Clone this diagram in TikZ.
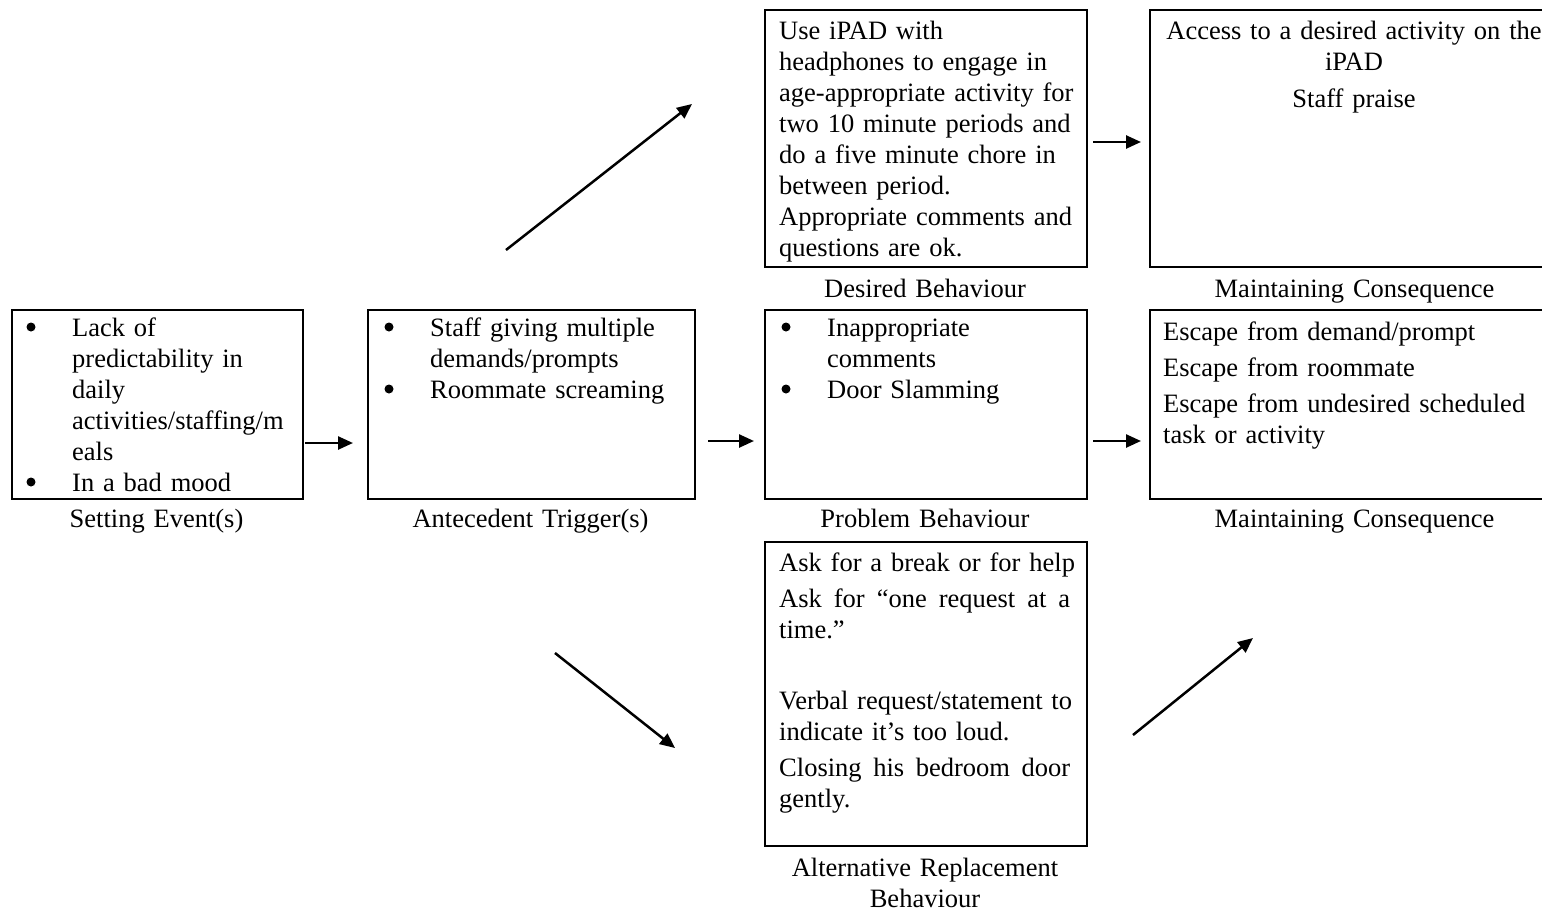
\documentclass[tikz,border=0pt]{standalone}
\usepackage{fontspec}
\setmainfont{Liberation Serif}
\usetikzlibrary{arrows.meta}
\newcommand\myfont{\fontsize{26.5}{31}\selectfont\fontdimen2\font=4.6pt\relax}
\tikzset{
  box/.style={draw=black, line width=2pt, inner sep=0pt},
  txt/.style={inner sep=0pt, anchor=base west, align=left, text width=#1,
    font=\myfont},
  txt/.default=330pt,
  ctxt/.style={inner sep=0pt, anchor=base, align=center, text width=420pt,
    font=\myfont},
  bul/.style={circle, fill=black, inner sep=0pt, minimum size=9pt},
  arr/.style={line width=2.5pt, -{Triangle[length=15pt,width=13pt]}}
}
\newcommand\jline[1]{\leavevmode\hbox to 291pt{#1}}
\begin{document}
\begin{tikzpicture}[x=1pt,y=-1pt]
\useasboundingbox (0,0) rectangle (1542,910);
\clip (0,0) rectangle (1542,910);

% boxes
\node[box, anchor=north west, minimum width=291pt, minimum height=189pt] (se) at (11,309) {};
\node[box, anchor=north west, minimum width=327pt, minimum height=189pt] (at) at (367,309) {};
\node[box, anchor=north west, minimum width=322pt, minimum height=189pt] (pb) at (764,309) {};
\node[box, anchor=north west, minimum width=322pt, minimum height=257pt] (db) at (764,9) {};
\node[box, anchor=north west, minimum width=420pt, minimum height=257pt] (mc1) at (1149,9) {};
\node[box, anchor=north west, minimum width=420pt, minimum height=189pt] (mc2) at (1149,309) {};
\node[box, anchor=north west, minimum width=322pt, minimum height=304pt] (ar) at (764,541) {};

% Setting event text
\node[bul] (b1) at (31,327) {};
\node[bul] (b2) at (31,482) {};
\node[txt=230pt] (set) at (72,336) {Lack of\\predictability in\\daily\\activities/staffing/m\\eals\\In a bad mood};

% Antecedent
\node[bul] (b3) at (389,327) {};
\node[bul] (b4) at (389,389) {};
\node[txt=260pt] (ant) at (430,336) {Staff giving multiple\\demands/prompts\\Roommate screaming};

% Problem
\node[bul] (b5) at (786,327) {};
\node[bul] (b6) at (786,389) {};
\node[txt=250pt] (prb) at (827,336) {Inappropriate\\comments\\Door Slamming};

% Desired
\node[txt=300pt] (des) at (779,39) {Use iPAD with\\headphones to engage in\\age-appropriate activity for\\two 10 minute periods and\\do a five minute chore in\\between period.\\Appropriate comments and\\questions are ok.};

% Maintaining 1
\node[ctxt] (mt1) at (1354,39) {Access to a desired activity on the\\iPAD\\[6pt]Staff praise};

% Maintaining 2
\node[txt=380pt] (mt2) at (1163,340) {Escape from demand/prompt\\[5pt]Escape from roommate\\[5pt]Escape from undesired scheduled\\task or activity};

% Alternative
\node[txt=300pt] (alt) at (779,571) {Ask for a break or for help\\[5pt]\jline{Ask\hfill for\hfill “one\hfill request\hfill at\hfill a}\\time.”\\[40pt]Verbal request/statement to\\indicate it’s too loud.\\[5pt]\jline{Closing\hfill his\hfill bedroom\hfill door}\\gently.};

% labels
\node[ctxt] (l1) at (156.5,527) {Setting Event(s)};
\node[ctxt] (l2) at (530.5,527) {Antecedent Trigger(s)};
\node[ctxt] (l3) at (925,527) {Problem Behaviour};
\node[ctxt] (l4) at (1354.5,527) {Maintaining Consequence};
\node[ctxt] (l5) at (925,297) {Desired Behaviour};
\node[ctxt] (l6) at (1354.5,297) {Maintaining Consequence};
\node[ctxt] (l7) at (925,876) {Alternative Replacement\\Behaviour};

% arrow end points
\coordinate (a1s) at (305,443); \coordinate (a1e) at (353,443);
\coordinate (a2s) at (708,441); \coordinate (a2e) at (754,441);
\coordinate (a3s) at (1093,142); \coordinate (a3e) at (1141,142);
\coordinate (a4s) at (1093,441); \coordinate (a4e) at (1141,441);
\coordinate (d1s) at (506,250); \coordinate (d1e) at (692,104);
\coordinate (d2s) at (555,653); \coordinate (d2e) at (675,748);
\coordinate (d3s) at (1133,735); \coordinate (d3e) at (1253,638);

\draw[arr] (a1s) -- (a1e);
\draw[arr] (a2s) -- (a2e);
\draw[arr] (a3s) -- (a3e);
\draw[arr] (a4s) -- (a4e);
\draw[arr] (d1s) -- (d1e);
\draw[arr] (d2s) -- (d2e);
\draw[arr] (d3s) -- (d3e);
\end{tikzpicture}
\end{document}
